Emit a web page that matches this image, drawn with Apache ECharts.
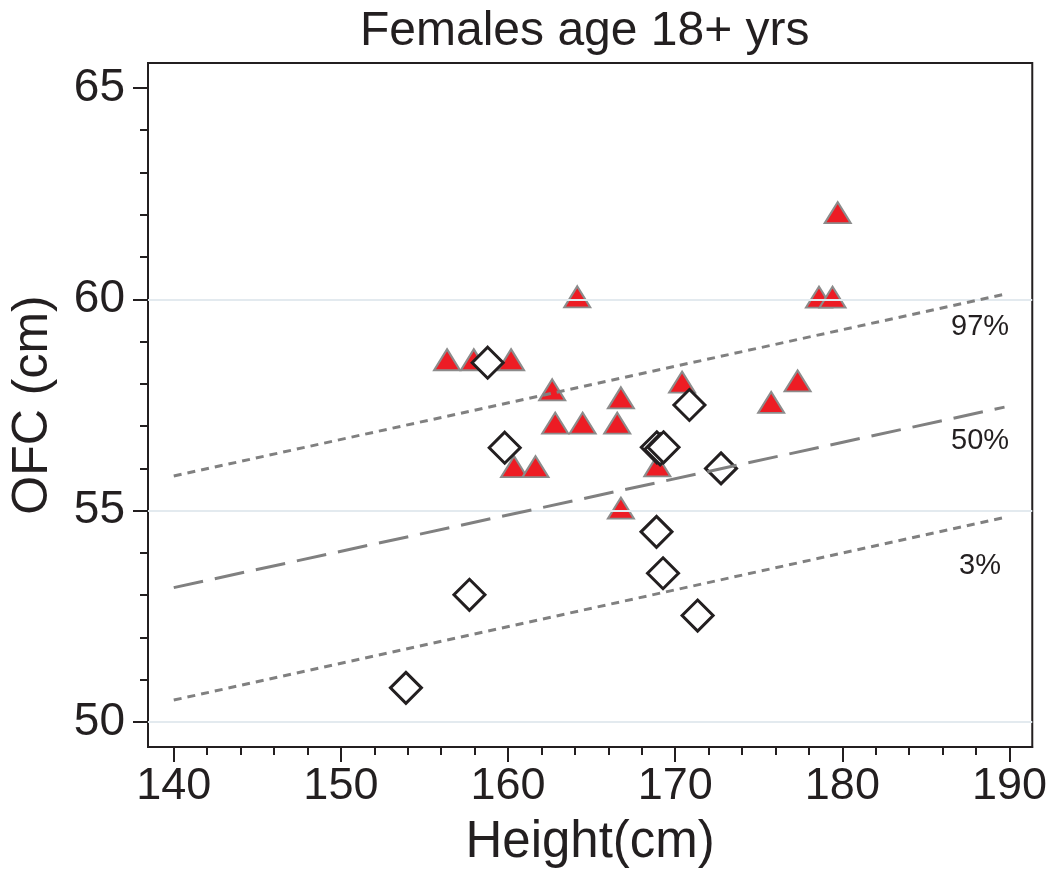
<!DOCTYPE html>
<html><head><meta charset="utf-8">
<script src="https://cdn.jsdelivr.net/npm/echarts@6/dist/echarts.min.js"></script>
<style>html,body{margin:0;padding:0;background:#fff}#c{width:1050px;height:874px}</style>
</head><body><div id="c"></div>
<script>
const titleText = 'Females age 18+ yrs';
const xName = 'Height(cm)';
const yName = 'OFC (cm)';
const xMajorTicks = [140, 150, 160, 170, 180, 190];
const xMinorTicks = [142, 144, 146, 148, 152, 154, 156, 158, 162, 164, 166, 168, 172, 174, 176, 178, 182, 184, 186, 188];
const yMajorTicks = [50, 55, 60, 65];
const yMinorTicks = [51, 52, 53, 54, 56, 57, 58, 59, 61, 62, 63, 64];
const gridValues = [50, 55, 60];

// red triangles
const triHeight = [156.35, 157.95, 160.18, 164.14, 162.64, 166.75, 170.41, 162.82, 164.46, 166.53, 160.36, 161.64, 168.93, 166.75, 179.72, 178.60, 179.41, 177.32, 175.74];
const triOFC    = [58.57, 58.57, 58.57, 60.06, 57.86, 57.67, 58.04, 57.07, 57.07, 57.07, 56.04, 56.04, 56.06, 55.06, 62.05, 60.05, 60.05, 58.07, 57.56];
// open diamonds
const diaHeight = [158.78, 159.80, 170.85, 168.90, 169.10, 169.30, 172.74, 168.88, 169.27, 171.34, 157.69, 153.89];
const diaOFC    = [58.50, 56.49, 57.50, 56.50, 56.45, 56.50, 56.00, 54.50, 53.52, 52.52, 53.01, 50.81];

// percentile reference lines
const curveHeight = [140, 189.7];
const p97 = [55.82, 60.12];
const p50 = [53.18, 57.45];
const p3  = [50.52, 54.84];
const curveNames = ['97%', '50%', '3%'];

const FONT = "'Liberation Sans', Arial, sans-serif";
const INK = '#231f20';
const XMIN = 138.46, XMAX = 191.36, YMIN = 49.41, YMAX = 65.59;

const zip = (a, b) => a.map((v, i) => [v, b[i]]);

function curveSeries(name, vals, dash, labelPos) {
  return {
    type: 'line', name, data: zip(curveHeight, vals), z: 5,
    symbol: 'circle', symbolSize: 1, showSymbol: true,
    itemStyle: { color: 'rgba(0,0,0,0)' },
    lineStyle: { color: '#808080', width: 3, type: dash },
    label: {
      show: true, formatter: p => p.dataIndex === 1 ? name : '',
      position: labelPos, align: 'center', verticalAlign: 'middle',
      fontSize: 29, fontFamily: FONT, color: INK
    },
    silent: true, animation: false
  };
}

const chart = echarts.init(document.getElementById('c'), null, { renderer: 'canvas' });
chart.setOption({
  animation: false,
  backgroundColor: '#fff',
  title: {
    text: titleText, left: 355, top: 3,
    textStyle: { fontSize: 48, fontWeight: 'normal', color: INK, fontFamily: FONT }
  },
  grid: { left: 145, right: 11, top: 63, bottom: 127, show: true, borderColor: INK, borderWidth: 2, backgroundColor: 'transparent' },
  xAxis: [{
    type: 'value', min: XMIN, max: XMAX,
    name: xName, nameLocation: 'middle', nameGap: 70,
    nameTextStyle: { fontSize: 51, color: INK, fontFamily: FONT },
    axisLine: { show: true, onZero: false, lineStyle: { color: INK, width: 2 } },
    axisTick: { show: true, customValues: xMajorTicks, length: 15, lineStyle: { color: INK, width: 2 } },
    axisLabel: { customValues: xMajorTicks, fontSize: 45, color: INK, fontFamily: FONT, margin: 17 },
    splitLine: { show: false }
  }, {
    type: 'value', min: XMIN, max: XMAX, position: 'bottom',
    axisLine: { show: false, onZero: false },
    axisTick: { show: true, customValues: xMinorTicks, length: 8, lineStyle: { color: INK, width: 2 } },
    axisLabel: { show: false },
    splitLine: { show: false }
  }],
  yAxis: [{
    type: 'value', min: YMIN, max: YMAX,
    name: yName, nameLocation: 'middle', nameGap: 90,
    nameTextStyle: { fontSize: 50, color: INK, fontFamily: FONT },
    axisLine: { show: true, onZero: false, lineStyle: { color: INK, width: 2 } },
    axisTick: { show: true, customValues: yMajorTicks, length: 15, lineStyle: { color: INK, width: 2 } },
    axisLabel: { customValues: yMajorTicks, fontSize: 46, color: INK, fontFamily: FONT, margin: 23 },
    splitLine: { show: false }
  }, {
    type: 'value', min: YMIN, max: YMAX, position: 'left',
    axisLine: { show: false, onZero: false },
    axisTick: { show: true, customValues: yMinorTicks, length: 8, lineStyle: { color: INK, width: 2 } },
    axisLabel: { show: false },
    splitLine: { show: false }
  }],
  series: [
    {
      type: 'line', data: [[curveHeight[0], gridValues[0]]], z: 1, showSymbol: false,
      lineStyle: { opacity: 0 }, silent: true,
      markLine: {
        silent: true, symbol: 'none', label: { show: false }, animation: false,
        lineStyle: { color: '#e3eaef', width: 2, type: 'solid' },
        data: gridValues.map(v => ({ yAxis: v }))
      }
    },
    {
      type: 'scatter', name: 'triangles', data: zip(triHeight, triOFC), z: 3,
      symbol: 'triangle', symbolSize: [26, 21],
      itemStyle: { color: '#ed1c24', borderColor: '#8c8c8c', borderWidth: 2, opacity: 1 },
      silent: true
    },
    {
      type: 'scatter', name: 'diamonds', data: zip(diaHeight, diaOFC), z: 4,
      symbol: 'diamond', symbolSize: 31,
      itemStyle: { color: '#ffffff', borderColor: INK, borderWidth: 3, opacity: 1 },
      silent: true
    },
    curveSeries(curveNames[0], p97, [8, 6], [-24, 33]),
    curveSeries(curveNames[1], p50, [30, 12], [-24, 34]),
    curveSeries(curveNames[2], p3, [8, 6], [-24, 49])
  ]
});
</script>
</body></html>
